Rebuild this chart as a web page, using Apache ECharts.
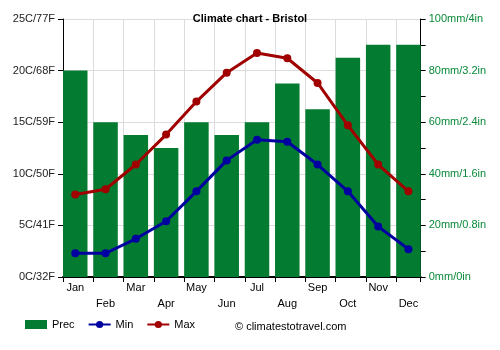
<!DOCTYPE html>
<html>
<head>
<meta charset="utf-8">
<script src="https://cdn.jsdelivr.net/npm/echarts@6/dist/echarts.min.js"></script>
<style>
  html, body { margin: 0; padding: 0; background: #fff; }
  #chart { width: 500px; height: 350px; }
</style>
</head>
<body>
<div id="chart"></div>
<script>
const months = ['Jan', 'Feb', 'Mar', 'Apr', 'May', 'Jun', 'Jul', 'Aug', 'Sep', 'Oct', 'Nov', 'Dec']
const prec = [80, 60, 55, 50, 60, 55, 60, 75, 65, 85, 90, 90]
const tMin = [2.3, 2.3, 3.7, 5.4, 8.3, 11.3, 13.3, 13.1, 10.9, 8.3, 4.9, 2.7]
const tMax = [8.0, 8.5, 10.9, 13.8, 17.0, 19.8, 21.7, 21.2, 18.8, 14.7, 10.9, 8.3]
const tempLabels = ['0C/32F', '5C/41F', '10C/50F', '15C/59F', '20C/68F', '25C/77F']
const precLabels = ['0mm/0in', '20mm/0.8in', '40mm/1.6in', '60mm/2.4in', '80mm/3.2in', '100mm/4in']

const chart = echarts.init(document.getElementById('chart'))
const font = 'Liberation Sans, Arial, sans-serif'

// plot box: left edge 63, right edge ~420.7, month slot ~30.3px, bar ~24.5px flush left in slot
const plotLeft = 63
const plotRight = 79.3
const slot = 30.3
const halfGap = (slot - 24.5) / 2
const slotsInPlot = (500 - plotLeft - plotRight) / slot

const option = {
  animation: false,
  textStyle: { fontFamily: font },
  title: {
    text: 'Climate chart - Bristol',
    left: 'center',
    top: 8,
    textStyle: { fontSize: 11, fontWeight: 'bold', color: '#000', fontFamily: font }
  },
  legend: {
    bottom: 15,
    left: 20,
    itemGap: 13,
    itemWidth: 22,
    itemHeight: 9,
    textStyle: { fontSize: 11, color: '#000', fontFamily: font },
    data: [
      { name: 'Prec', icon: 'rect' },
      { name: 'Min' },
      { name: 'Max' }
    ]
  },
  graphic: [{
    type: 'text',
    left: 235,
    top: 321,
    style: { text: '© climatestotravel.com', fontSize: 11, fill: '#000', fontFamily: font }
  }],
  grid: [
    // grid for marks: categories centered on the bars
    { left: plotLeft - halfGap, right: plotRight - halfGap, top: 19, bottom: 73 },
    // grid for the frame: axes, ticks and grid lines
    { left: plotLeft, right: plotRight, top: 19, bottom: 73 }
  ],
  xAxis: [
    {
      type: 'category',
      gridIndex: 0,
      data: months,
      axisLine: { show: false },
      axisTick: { show: false },
      splitLine: { show: false },
      axisLabel: {
        interval: 0,
        fontSize: 11,
        color: '#000',
        margin: 3,
        lineHeight: 16,
        formatter: (v, i) => (i % 2 === 0 ? v : '\n' + v)
      }
    },
    {
      type: 'value',
      gridIndex: 1,
      min: 0,
      max: slotsInPlot,
      interval: 1,
      axisLine: { show: true, lineStyle: { color: '#000', width: 2 } },
      axisTick: { show: true, length: 5, lineStyle: { color: '#000' } },
      splitLine: { show: true, lineStyle: { color: '#dcdcdc' } },
      axisLabel: { show: false }
    }
  ],
  yAxis: [
    {
      type: 'value',
      gridIndex: 1,
      min: 0,
      max: 25,
      interval: 5,
      position: 'left',
      axisLine: { show: true, lineStyle: { color: '#000' } },
      axisTick: { show: true, length: 5, lineStyle: { color: '#000' } },
      splitLine: { show: true, lineStyle: { color: '#dcdcdc' } },
      axisLabel: {
        fontSize: 11,
        color: '#222',
        margin: 8,
        formatter: v => tempLabels[Math.round(v / 5)]
      }
    },
    {
      type: 'value',
      gridIndex: 1,
      min: 0,
      max: 100,
      interval: 20,
      position: 'right',
      axisLine: { show: true, lineStyle: { color: '#000' } },
      axisTick: { show: true, length: 5, lineStyle: { color: '#000' } },
      minorTick: { show: true, splitNumber: 2, length: 5, lineStyle: { color: '#000' } },
      splitLine: { show: false },
      axisLabel: {
        fontSize: 11,
        color: '#0a8a3a',
        margin: 8,
        formatter: v => precLabels[Math.round(v / 20)]
      }
    },
    { type: 'value', gridIndex: 0, min: 0, max: 25, show: false },
    { type: 'value', gridIndex: 0, min: 0, max: 100, show: false }
  ],
  series: [
    {
      name: 'Prec',
      type: 'bar',
      xAxisIndex: 0,
      yAxisIndex: 3,
      data: prec,
      barWidth: 24.5,
      itemStyle: { color: '#037b30' }
    },
    {
      name: 'Min',
      type: 'line',
      xAxisIndex: 0,
      yAxisIndex: 2,
      data: tMin,
      symbol: 'circle',
      symbolSize: 8,
      lineStyle: { color: '#0000a0', width: 3 },
      itemStyle: { color: '#0000a0' }
    },
    {
      name: 'Max',
      type: 'line',
      xAxisIndex: 0,
      yAxisIndex: 2,
      data: tMax,
      symbol: 'circle',
      symbolSize: 8,
      lineStyle: { color: '#a00000', width: 3 },
      itemStyle: { color: '#a00000' }
    }
  ]
}

chart.setOption(option)
</script>
</body>
</html>
